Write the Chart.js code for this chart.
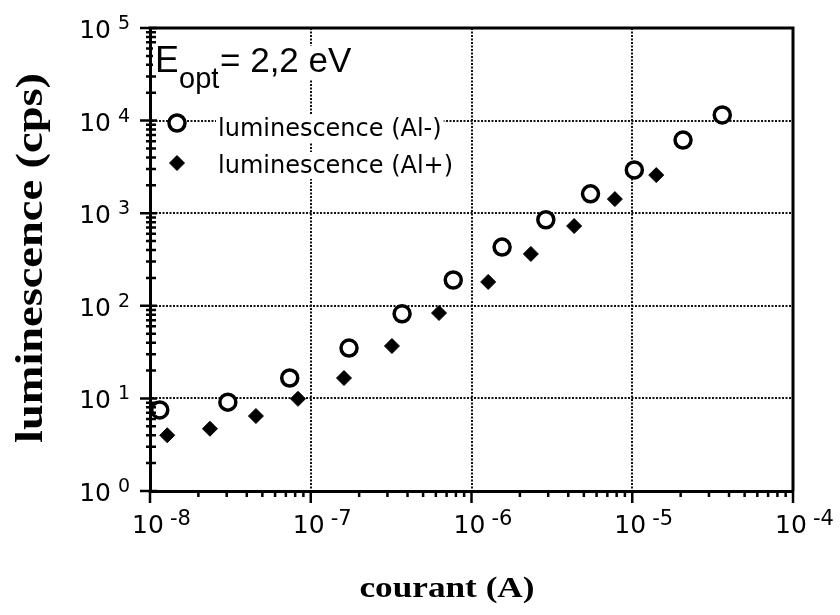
<!DOCTYPE html>
<html>
<head>
<meta charset="utf-8">
<script src="https://cdn.jsdelivr.net/npm/chart.js@4.4.1/dist/chart.umd.min.js"></script>
<style>
  html, body { margin: 0; padding: 0; background: #fff; }
  #wrap { position: relative; width: 840px; height: 615px; }
</style>
</head>
<body>
<div id="wrap"><canvas id="chart"></canvas></div>
<script>
// values: courant (A) vs luminescence (cps)
const courantAlMoins = [1.15e-8, 3.05e-8, 7.4e-8, 1.73e-7, 3.7e-7, 7.7e-7, 1.55e-6, 2.9e-6, 5.5e-6, 1.03e-5, 2.07e-5, 3.63e-5];
const lumAlMoins = [7.5, 9.1, 16.6, 35, 82, 190, 431, 850, 1620, 2930, 6170, 11500];
const courantAlPlus = [1.28e-8, 2.36e-8, 4.56e-8, 8.33e-8, 1.61e-7, 3.2e-7, 6.28e-7, 1.27e-6, 2.34e-6, 4.35e-6, 7.8e-6, 1.41e-5];
const lumAlPlus = [4.0, 4.7, 6.45, 9.9, 16.6, 36.8, 83.6, 181, 363, 727, 1420, 2580];

const xExponents = [-8, -7, -6, -5, -4];
const yExponents = [0, 1, 2, 3, 4, 5];
const xTitle = 'courant (A)';
const yTitle = 'luminescence (cps)';
const energyLabel = ['E', 'opt', '= 2,2 eV'];
const seriesLabels = ['luminescence (Al-)', 'luminescence (Al+)'];

const pts = (xs, ys) => xs.map((v, i) => ({ x: v, y: ys[i] }));
const decades = exps => exps.map(e => ({ value: Math.pow(10, e) }));
const minors = exps => {
  const out = [];
  exps.slice(0, -1).forEach(e => { for (let m = 2; m <= 9; m++) out.push(m * Math.pow(10, e)); });
  return out;
};

function text(ctx, str, x, y, font, bg) {
  ctx.font = font;
  if (bg) {
    const m = ctx.measureText(str);
    ctx.fillStyle = '#fff';
    ctx.fillRect(x - 2, y - m.actualBoundingBoxAscent - 2, m.width + 4, m.actualBoundingBoxAscent + m.actualBoundingBoxDescent + 4);
  }
  ctx.fillStyle = '#000';
  ctx.fillText(str, x, y);
  return ctx.measureText(str).width;
}

// stretched text so the serif titles fill the same length as in the figure
function stretched(ctx, str, cx, cy, font, length, rotate) {
  ctx.save();
  ctx.font = font;
  const w = ctx.measureText(str).width;
  ctx.translate(cx, cy);
  if (rotate) ctx.rotate(-Math.PI / 2);
  ctx.scale(length / w, 1);
  ctx.textAlign = 'center';
  ctx.textBaseline = 'alphabetic';
  ctx.fillStyle = '#000';
  ctx.fillText(str, 0, 0);
  ctx.restore();
}

const frame = {
  id: 'frame',
  afterDraw(chart) {
    const { ctx, chartArea: a, scales: { x, y } } = chart;
    ctx.save();
    ctx.strokeStyle = '#000';
    ctx.lineCap = 'butt';

    // top and right edges of the box
    ctx.lineWidth = 3;
    ctx.beginPath();
    ctx.moveTo(a.left - 1.5, a.top);
    ctx.lineTo(a.right, a.top);
    ctx.lineTo(a.right, a.bottom);
    ctx.stroke();

    // ticks
    ctx.lineWidth = 2.5;
    ctx.beginPath();
    minors(xExponents).forEach(v => {
      const px = x.getPixelForValue(v);
      ctx.moveTo(px, a.bottom); ctx.lineTo(px, a.bottom + 6);
    });
    decades(xExponents).forEach(t => {
      const px = x.getPixelForValue(t.value);
      ctx.moveTo(px, a.bottom); ctx.lineTo(px, a.bottom + 12);
    });
    minors(yExponents).forEach(v => {
      const py = y.getPixelForValue(v);
      ctx.moveTo(a.left - 4, py); ctx.lineTo(a.left + 6, py);
    });
    decades(yExponents).forEach(t => {
      const py = y.getPixelForValue(t.value);
      ctx.moveTo(a.left - 10, py); ctx.lineTo(a.left + 7, py);
    });
    ctx.stroke();

    // tick labels as 10 with a raised exponent
    ctx.textAlign = 'left';
    ctx.textBaseline = 'alphabetic';
    xExponents.forEach(e => {
      const px = x.getPixelForValue(Math.pow(10, e));
      text(ctx, '10', px - 18, a.bottom + 42, '25px "DejaVu Sans"');
      text(ctx, String(e), px + 20, a.bottom + 34, '21px "DejaVu Sans"');
    });
    yExponents.forEach(e => {
      const py = y.getPixelForValue(Math.pow(10, e));
      ctx.font = '25px "DejaVu Sans"';
      const w = ctx.measureText('10').width;
      text(ctx, '10', a.left - 39 - w, py + 10, '25px "DejaVu Sans"');
      text(ctx, String(e), a.left - 32, py + 1, '19px "DejaVu Sans"');
    });

    // axis titles
    stretched(ctx, xTitle, 447, 597, 'bold 30px "Liberation Serif"', 175, false);
    stretched(ctx, yTitle, 42, 258, 'bold 37px "Liberation Serif"', 370, true);

    // E_opt note
    let cx = a.left + 5;
    cx += text(ctx, energyLabel[0], cx, 72, '36px "Liberation Sans"', true);
    text(ctx, energyLabel[1], cx, 88, '29px "Liberation Sans"', true);
    text(ctx, energyLabel[2], 220, 72, '35px "Liberation Sans"', true);

    // legend inside the plot
    const rows = [{ y: 123, base: 136 }, { y: 163, base: 173 }];
    chart.data.datasets.forEach((ds, i) => {
      ctx.fillStyle = ds.backgroundColor;
      ctx.strokeStyle = ds.borderColor;
      ctx.lineWidth = ds.borderWidth;
      Chart.helpers.drawPoint(ctx, { pointStyle: ds.pointStyle, radius: ds.pointRadius, borderWidth: ds.borderWidth, rotation: 0 }, 177, rows[i].y);
      text(ctx, ds.label, 218, rows[i].base, '24px "DejaVu Sans"', true);
    });
    ctx.restore();
  }
};

new Chart(document.getElementById('chart'), {
  type: 'scatter',
  data: {
    datasets: [
      {
        label: seriesLabels[0],
        data: pts(courantAlMoins, lumAlMoins),
        pointStyle: 'circle',
        pointRadius: 8,
        borderWidth: 3.5,
        borderColor: '#000',
        backgroundColor: '#fff'
      },
      {
        label: seriesLabels[1],
        data: pts(courantAlPlus, lumAlPlus),
        pointStyle: 'rectRot',
        pointRadius: 7.5,
        borderWidth: 1,
        borderColor: '#000',
        backgroundColor: '#000'
      }
    ]
  },
  options: {
    responsive: true,
    maintainAspectRatio: false,
    animation: false,
    events: [],
    layout: { padding: { left: 150, top: 28, right: 47, bottom: 124 } },
    plugins: { legend: { display: false }, tooltip: { enabled: false } },
    scales: {
      x: {
        type: 'logarithmic',
        min: 1e-8,
        max: 1e-4,
        afterBuildTicks: s => { s.ticks = decades(xExponents); },
        ticks: { display: false },
        grid: { color: '#111', lineWidth: 2, drawTicks: false },
        border: { display: true, color: '#000', width: 3, dash: [2, 1.5] }
      },
      y: {
        type: 'logarithmic',
        min: 1,
        max: 1e5,
        afterBuildTicks: s => { s.ticks = decades(yExponents); },
        ticks: { display: false },
        grid: { color: '#111', lineWidth: 2, drawTicks: false },
        border: { display: true, color: '#000', width: 3, dash: [2, 1.5] }
      }
    }
  },
  plugins: [frame]
});
</script>
</body>
</html>
